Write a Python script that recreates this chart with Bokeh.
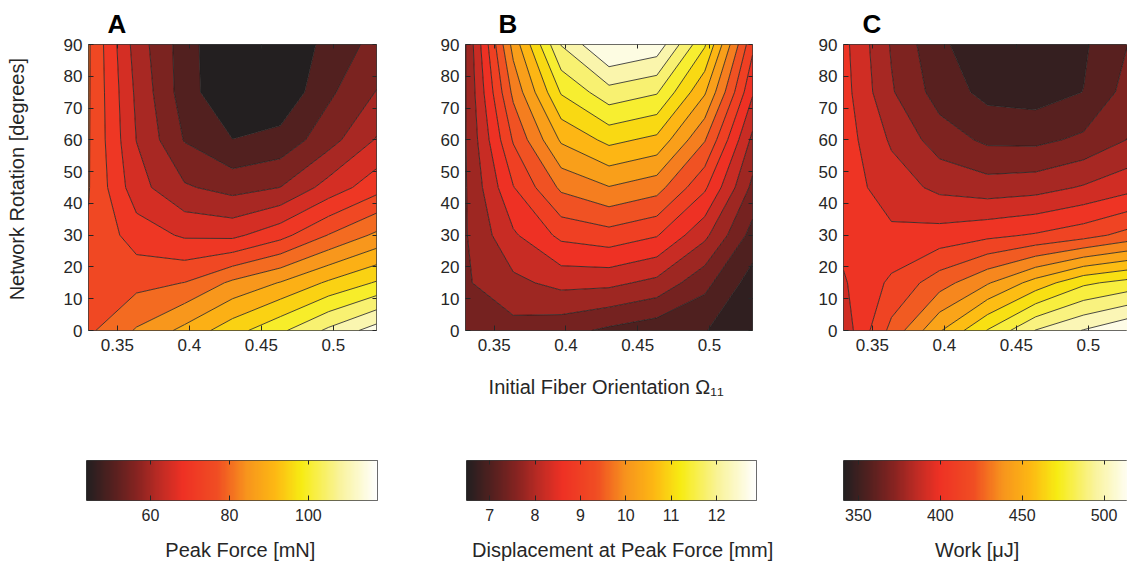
import numpy as np
from bokeh.plotting import figure
from bokeh.layouts import column, row
from bokeh.models import (FixedTicker, LinearAxis, LinearColorMapper,
                          CustomJSTickFormatter, Range1d)
from bokeh.embed import file_html
from bokeh.resources import INLINE

# ---------------- data ----------------
fiber_orientation = [0.33, 0.3633, 0.3967, 0.43, 0.4633, 0.4967, 0.53]
network_rotation = [0, 15, 30, 45, 60, 75, 90]

# rows = network rotation (0..90), columns = fiber orientation
peak_force = [
    [79.0, 85.5, 91.4, 98.0, 104.0, 111.0, 117.3],
    [79.0, 78.5, 80.1, 86.0, 90.3, 95.8, 100.5],
    [79.5, 72.6, 69.3, 68.8, 73.3, 80.2, 86.0],
    [80.3, 67.0, 60.6, 58.2, 60.05, 67.0, 73.0],
    [80.4, 64.9, 54.7, 50.1, 51.7, 58.0, 65.4],
    [80.5, 64.0, 52.5, 45.0, 46.0, 54.0, 60.2],
    [80.6, 62.7, 52.5, 44.3, 44.5, 52.0, 56.5],
]
displacement = [
    [7.45, 7.46, 7.34, 7.12, 6.95, 6.82, 6.49],
    [7.55, 7.90, 8.12, 8.10, 7.89, 7.32, 6.62],
    [7.57, 8.34, 8.90, 9.04, 8.83, 8.10, 7.05],
    [7.57, 8.78, 9.68, 9.98, 9.76, 8.87, 7.50],
    [7.58, 9.24, 10.46, 10.91, 10.70, 9.63, 7.90],
    [7.58, 9.70, 11.24, 11.85, 11.64, 10.45, 8.45],
    [7.58, 10.15, 12.02, 12.88, 12.66, 11.25, 8.90],
]
work = [
    [389.4, 421.3, 449.9, 473.6, 495.4, 506.6, 516.5],
    [394.8, 409.2, 424.1, 438.9, 455.4, 470.8, 477.4],
    [399.3, 398.2, 400.4, 404.3, 408.1, 413.6, 422.4],
    [401.5, 390.5, 382.3, 379.0, 380.6, 386.1, 392.7],
    [401.5, 383.4, 368.5, 360.8, 360.3, 365.2, 375.1],
    [400.4, 375.1, 358.1, 348.7, 347.1, 352.2, 368.5],
    [399.3, 372.9, 354.2, 344.3, 341.6, 350.4, 364.1],
]

force_levels = [43.0, 50, 55, 60, 65, 70, 75, 80, 85, 90, 95, 100, 105, 110, 115, 118.0]
disp_levels = [6.3, 6.8, 7.2, 7.6, 8.0, 8.4, 8.8, 9.2, 9.6, 10.0, 10.4, 10.8,
               11.2, 11.6, 12.0, 12.4, 13.0]
work_levels = [335, 352, 363, 374, 385, 396, 407, 418, 429, 440, 451, 462,
               473, 484, 495, 506, 520]

force_range = (43.8, 117.5)
disp_range = (6.49, 12.88)
work_range = (340.9, 517.0)

x_ticks = [0.35, 0.4, 0.45, 0.5]
y_ticks = [0, 10, 20, 30, 40, 50, 60, 70, 80, 90]
force_ticks = [60, 80, 100]
disp_ticks = [7, 8, 9, 10, 11, 12]
work_ticks = [350, 400, 450, 500]

NB = "\u00a0"

# ---------------- colormap ----------------
STOPS = [(0.00, "#231f20"), (0.09, "#55201f"), (0.18, "#8c2421"),
         (0.25, "#bd2b24"), (0.33, "#ee3124"), (0.45, "#f04e23"),
         (0.55, "#f7941d"), (0.65, "#fdb913"), (0.74, "#f7ec13"),
         (0.87, "#f9f39a"), (1.00, "#ffffff")]


def _rgb(h):
    return tuple(int(h[i:i + 2], 16) for i in (1, 3, 5))


def cmap(t):
    t = min(max(t, 0.0), 1.0)
    for (t0, c0), (t1, c1) in zip(STOPS[:-1], STOPS[1:]):
        if t <= t1:
            f = 0 if t1 == t0 else (t - t0) / (t1 - t0)
            a, b = _rgb(c0), _rgb(c1)
            return "#%02x%02x%02x" % tuple(int(round(a[i] + f * (b[i] - a[i]))) for i in range(3))
    return STOPS[-1][1]


PALETTE = [cmap(i / 255) for i in range(256)]


def band_colors(levels, rng, frac):
    lo, hi = rng
    cols = []
    for a, b in zip(levels[:-1], levels[1:]):
        a2, b2 = max(a, lo), min(b, hi)
        v = a2 + frac * (b2 - a2)
        cols.append(cmap((v - lo) / (hi - lo)))
    return cols


FONT = "Liberation Sans"
TXT = "#262626"
empty_fmt = CustomJSTickFormatter(code="return ''")


def style_axis(ax, size="17px"):
    ax.major_label_text_font = FONT
    ax.major_label_text_font_size = size
    ax.major_label_text_color = TXT
    ax.axis_label_text_font = FONT
    ax.axis_label_text_font_size = "20px"
    ax.axis_label_text_font_style = "normal"
    ax.axis_label_text_color = TXT
    ax.major_tick_in = 5
    ax.major_tick_out = 0
    ax.major_tick_line_color = TXT
    ax.minor_tick_line_color = None
    ax.axis_line_color = None


def panel(z, levels, rng, frac, letter, offset, width, bl, br, x_end,
          ylabel=None, xlabel=None, right_axis=True):
    p = figure(width=width, height=410, x_range=Range1d(0.33, x_end),
               y_range=Range1d(0, 90), output_backend="svg",
               toolbar_location=None, min_border_left=bl,
               min_border_right=br, min_border_top=44, min_border_bottom=80)
    p.contour(fiber_orientation, network_rotation, np.array(z), levels,
              fill_color=band_colors(levels, rng, frac),
              line_color="#1e1e1e", line_width=0.8)
    p.grid.visible = False
    p.outline_line_color = "#3a3a3a"
    p.outline_line_width = 1
    p.background_fill_color = "white"
    p.border_fill_color = "white"
    xa = p.below[0]
    ya = p.left[0]
    xa.ticker = FixedTicker(ticks=x_ticks)
    xa.formatter = CustomJSTickFormatter(code="return String(tick)")
    ya.ticker = FixedTicker(ticks=y_ticks)
    style_axis(xa)
    style_axis(ya)
    xa.major_label_standoff = 8
    ya.major_label_standoff = 6
    if ylabel:
        ya.axis_label = ylabel
        ya.axis_label_standoff = 33
    if xlabel:
        xa.axis_label = xlabel
        xa.axis_label_standoff = 22
    top = LinearAxis(ticker=FixedTicker(ticks=x_ticks), formatter=empty_fmt)
    style_axis(top)
    top.major_label_standoff = 0
    top.major_tick_in = 4
    p.add_layout(top, "above")
    if right_axis:
        rt = LinearAxis(ticker=FixedTicker(ticks=y_ticks), formatter=empty_fmt)
        style_axis(rt)
        rt.major_tick_in = 4
        p.add_layout(rt, "right")
    p.title.text = letter
    p.title.text_font = FONT
    p.title.text_font_size = "26px"
    p.title.text_font_style = "bold"
    p.title.text_color = "black"
    p.title.text_line_height = 1.0
    p.title.offset = offset
    p.title.standoff = 12
    return p


def cbar(rng, vis_max, ticks, label, width, bl, br):
    lo, hi = rng
    c = figure(width=width, height=153, x_range=Range1d(lo, vis_max),
               y_range=Range1d(0, 1), output_backend="svg",
               toolbar_location=None, min_border_left=bl,
               min_border_right=br, min_border_top=50, min_border_bottom=63)
    mapper = LinearColorMapper(palette=PALETTE, low=lo, high=hi)
    c.image(image=[np.linspace(lo, hi, 256)[None, :]], x=lo, y=0,
            dw=hi - lo, dh=1, color_mapper=mapper)
    c.grid.visible = False
    c.yaxis.visible = False
    c.outline_line_color = "#3a3a3a"
    c.outline_line_width = 1
    xa = c.below[0]
    xa.ticker = FixedTicker(ticks=ticks)
    style_axis(xa, "16px")
    xa.major_label_standoff = 8
    xa.axis_label = label
    xa.axis_label_standoff = 15
    top = LinearAxis(ticker=FixedTicker(ticks=ticks), formatter=empty_fmt)
    style_axis(top)
    top.major_tick_in = 4
    c.add_layout(top, "above")
    return c


pA = panel(peak_force, force_levels, force_range, 0.0, "A", 19, 420, 88, 44,
           0.53, ylabel=NB * 3 + "Network Rotation [degrees]")
pB = panel(displacement, disp_levels, disp_range, 0.5, "B", 33, 380, 45, 48,
           0.53, xlabel="Initial Fiber Orientation  \u03a9\u2081\u2081")
pC = panel(work, work_levels, work_range, 0.5, "C", 19, 327, 43, 0,
           0.5272, right_axis=False)

cA = cbar(force_range, force_range[1], force_ticks,
          NB * 3 + "Peak Force [mN]", 420, 86, 43)
cB = cbar(disp_range, disp_range[1], disp_ticks,
          NB * 4 + "Displacement at Peak Force [mm]", 380, 46, 44)
cC = cbar(work_range, 514.3, work_ticks, "Work [\u03bcJ]" + NB * 3,
          327, 43, 0)

layout = column(row(pA, pB, pC), row(cA, cB, cC))

open("out.html", "w").write(file_html(layout, INLINE))
